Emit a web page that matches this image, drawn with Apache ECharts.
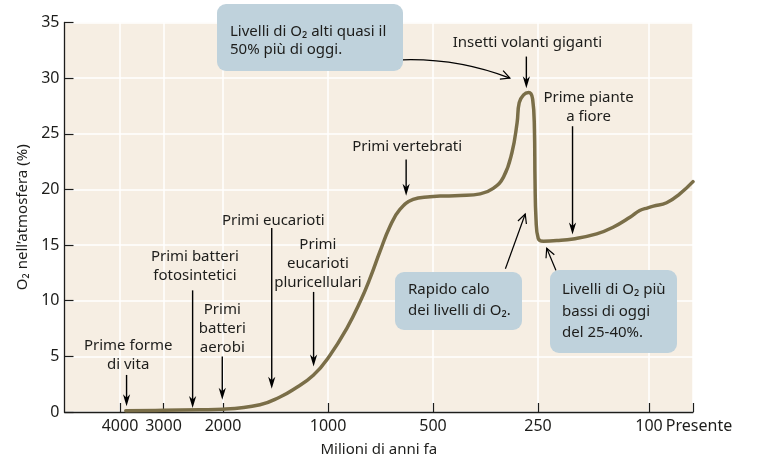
<!DOCTYPE html>
<html><head><meta charset="utf-8">
<script src="https://cdn.jsdelivr.net/npm/echarts@6/dist/echarts.min.js"></script>
<style>html,body{margin:0;padding:0;background:#fff}#c{width:757px;height:462px}</style>
</head><body><div id="c"></div>
<script>
// ---- axis scale (millions of years ago) ----
const tickMa = [4000, 3000, 2000, 1000, 500, 250, 100, 0];
const tickLabels = ['4000', '3000', '2000', '1000', '500', '250', '100', 'Presente'];
const tickPos = [8.83, 15.75, 25.22, 41.93, 58.63, 75.34, 93.0, 100]; // schematic timeline positions (0-100)
const yTicks = [0, 5, 10, 15, 20, 25, 30, 35];

// ---- O2 curve ----
const curveMa = [3850, 3000, 2340, 2000, 1567, 1373, 1260, 1102, 987, 884, 809, 758, 710, 664, 622, 570, 510, 477, 418, 366, 336, 314, 297, 287, 283, 275, 266, 259, 256, 255, 253.3, 249.5, 239, 214, 187, 154, 134.5, 117, 108, 101, 90, 60, 30, 0];
const curveO2 = [0.12, 0.15, 0.2, 0.25, 0.65, 1.35, 2.0, 3.3, 5.1, 7.5, 9.9, 12.0, 14.4, 16.7, 18.2, 19.1, 19.35, 19.4, 19.45, 19.6, 20.1, 21.1, 23.3, 26.0, 27.8, 28.5, 28.7, 28.1, 25.4, 20.9, 17.3, 15.6, 15.35, 15.4, 15.55, 16.0, 16.6, 17.5, 18.1, 18.35, 18.5, 18.8, 19.6, 20.7];

// ---- event annotations (vertical arrows) ----
const noteText = ['Prime forme\ndi vita', 'Primi batteri\nfotosintetici', 'Primi\nbatteri\naerobi', 'Primi eucarioti', 'Primi\neucarioti\npluricellulari', 'Primi vertebrati', 'Insetti volanti giganti', 'Prime piante\na fiore'];
const noteMa = [3830, 2460, 2010, 1450, 1100, 597, 270, 188];
const noteTipO2 = [0.51, 0.36, 1.1, 2.08, 4.09, 19.43, 29.1, 15.94];
const noteTailO2 = [3.33, 10.93, 4.98, 16.54, 10.79, 22.7, 31.94, 25.68];

// ---- boxed comments ----
const boxText = ['Livelli di O\u2082 alti quasi il\n50% più di oggi.', 'Rapido calo\ndei livelli di O\u2082.', 'Livelli di O\u2082 più\nbassi di oggi\ndel 25-40%.'];
const boxArrowFromMa = [610, 310, 215.5];
const boxArrowFromO2 = [31.65, 12.87, 12.72];
const boxArrowToMa = [301, 272, 232.7];
const boxArrowToO2 = [30.0, 17.79, 14.72];

// ---- layout / style (pixels) ----
const noteDx = [1.6, 2.3, 0, 1.6, 4.3, 1, 1, 16];
const noteDy = [-0.5, -5.5, 0.5, 2.2, 0.5, -3.5, -3.9, 0];
const boxLayout = [
  {x: 217, y: 4, w: 186, h: 67, tx: 230, ty: 22.5, lh: 18.3},
  {x: 395, y: 272, w: 127, h: 58, tx: 408, ty: 279.6, lh: 20.7},
  {x: 550, y: 270, w: 127, h: 83, tx: 562, ty: 279.3, lh: 21.5}
];
const boxCurv = [0.1, 0, 0];
const FONT = '"Noto Sans", "DejaVu Sans", sans-serif';
const INK = '#1d1d1b';

function maToPos(ma) {
  for (let i = 0; i < tickMa.length - 1; i++) {
    const a = tickMa[i], b = tickMa[i + 1];
    if (ma <= a && ma >= b) {
      const t = b === 0 ? (a - ma) / (a - b) : Math.log(a / ma) / Math.log(a / b);
      return tickPos[i] + t * (tickPos[i + 1] - tickPos[i]);
    }
  }
  const t = Math.log(tickMa[0] / ma) / Math.log(tickMa[0] / tickMa[1]);
  return tickPos[0] + t * (tickPos[1] - tickPos[0]);
}

const chart = echarts.init(document.getElementById('c'), null, {renderer: 'canvas'});
chart.setOption({
  animation: false,
  backgroundColor: '#ffffff',
  textStyle: {fontFamily: FONT},
  grid: {left: 64.5, right: 64, top: 22.5, bottom: 48, show: true, backgroundColor: '#f6eee3', borderWidth: 0},
  xAxis: {
    type: 'value', min: 0, max: 100,
    name: 'Milioni di anni fa', nameLocation: 'middle', nameGap: 30,
    nameTextStyle: {fontSize: 15, color: INK, fontFamily: FONT},
    axisLine: {lineStyle: {color: INK, width: 1.3}},
    axisTick: {inside: true, length: 9, customValues: tickPos, lineStyle: {color: INK, width: 1.2}},
    axisLabel: {
      customValues: tickPos, fontSize: 16, color: INK, fontFamily: FONT, margin: 6,
      formatter: function (v) {
        let best = 0;
        tickPos.forEach((p, i) => { if (Math.abs(p - v) < Math.abs(tickPos[best] - v)) best = i; });
        return best === tickLabels.length - 1 ? '{p|' + tickLabels[best] + '}' : tickLabels[best];
      },
      rich: {p: {fontSize: 16, color: INK, fontFamily: FONT, padding: [0, 0, 0, 12]}}
    },
    splitLine: {show: true, lineStyle: {color: '#ffffff', width: 1.5}}
  },
  yAxis: {
    type: 'value', min: 0, max: 35, interval: 5,
    name: 'O\u2082 nell\u2019atmosfera (%)', nameLocation: 'middle', nameGap: 34, nameRotate: 90,
    nameTextStyle: {fontSize: 15, color: INK, fontFamily: FONT},
    axisLine: {show: true, lineStyle: {color: INK, width: 1.3}},
    axisTick: {show: true, inside: true, length: 9, lineStyle: {color: INK, width: 1.2}},
    axisLabel: {fontSize: 16, color: INK, fontFamily: FONT, margin: 5},
    splitLine: {show: true, lineStyle: {color: '#ffffff', width: 1.5}}
  },
  series: [{
    type: 'line',
    data: curveMa.map((m, i) => [maToPos(m), curveO2[i]]),
    showSymbol: false,
    smooth: 0.45,
    lineStyle: {color: '#7a6e48', width: 3.5, join: 'round', cap: 'round'},
    z: 3
  }]
});

function px(ma, o2) { return chart.convertToPixel({gridIndex: 0}, [maToPos(ma), o2]); }

function filledHead(tip, from) {
  const dx = tip[0] - from[0], dy = tip[1] - from[1];
  const L = Math.hypot(dx, dy), ux = dx / L, uy = dy / L, nx = -uy, ny = ux;
  const len = 12, hw = 3.6, notch = 3.5;
  return {
    type: 'polygon', z: 20,
    shape: {points: [
      [tip[0], tip[1]],
      [tip[0] - ux * len + nx * hw, tip[1] - uy * len + ny * hw],
      [tip[0] - ux * (len - notch), tip[1] - uy * (len - notch)],
      [tip[0] - ux * len - nx * hw, tip[1] - uy * len - ny * hw]
    ]},
    style: {fill: '#000'}
  };
}
function openHead(tip, dirFrom) {
  const dx = tip[0] - dirFrom[0], dy = tip[1] - dirFrom[1];
  const L = Math.hypot(dx, dy), ux = dx / L, uy = dy / L, nx = -uy, ny = ux;
  const len = 9, hw = 4.5;
  return {
    type: 'polyline', z: 20,
    shape: {points: [
      [tip[0] - ux * len + nx * hw, tip[1] - uy * len + ny * hw],
      [tip[0], tip[1]],
      [tip[0] - ux * len - nx * hw, tip[1] - uy * len - ny * hw]
    ]},
    style: {stroke: '#000', lineWidth: 1.2, fill: null}
  };
}

const g = [];
noteText.forEach((t, i) => {
  const tip = px(noteMa[i], noteTipO2[i]);
  const tail = px(noteMa[i], noteTailO2[i]);
  g.push({type: 'line', z: 20, shape: {x1: tail[0], y1: tail[1], x2: tip[0], y2: tip[1] - 8}, style: {stroke: '#000', lineWidth: 1.4}});
  g.push(filledHead(tip, tail));
  g.push({type: 'text', z: 21, x: tail[0] + noteDx[i], y: tail[1] + noteDy[i],
    style: {text: t, align: 'center', verticalAlign: 'bottom', font: '15px ' + FONT, lineHeight: 19, fill: INK}});
});

boxText.forEach((t, i) => {
  const b = boxLayout[i];
  const s = px(boxArrowFromMa[i], boxArrowFromO2[i]);
  const e = px(boxArrowToMa[i], boxArrowToO2[i]);
  if (boxCurv[i]) {
    const cx = (s[0] + e[0]) / 2 + boxCurv[i] * (e[1] - s[1]);
    const cy = (s[1] + e[1]) / 2 - boxCurv[i] * (e[0] - s[0]);
    g.push({type: 'bezierCurve', z: 20, shape: {x1: s[0], y1: s[1], x2: e[0], y2: e[1], cpx1: cx, cpy1: cy}, style: {stroke: '#000', lineWidth: 1.2, fill: null}});
    g.push(openHead(e, [cx, cy]));
  } else {
    g.push({type: 'line', z: 20, shape: {x1: s[0], y1: s[1], x2: e[0], y2: e[1]}, style: {stroke: '#000', lineWidth: 1.2}});
    g.push(openHead(e, s));
  }
  g.push({type: 'rect', z: 22, shape: {x: b.x, y: b.y, width: b.w, height: b.h, r: 9}, style: {fill: '#bfd2dc'}});
  g.push({type: 'text', z: 23, x: b.tx, y: b.ty,
    style: {text: t, align: 'left', verticalAlign: 'top', font: '15px ' + FONT, lineHeight: b.lh, fill: INK}});
});

chart.setOption({graphic: {elements: g}});
</script>
</body></html>
